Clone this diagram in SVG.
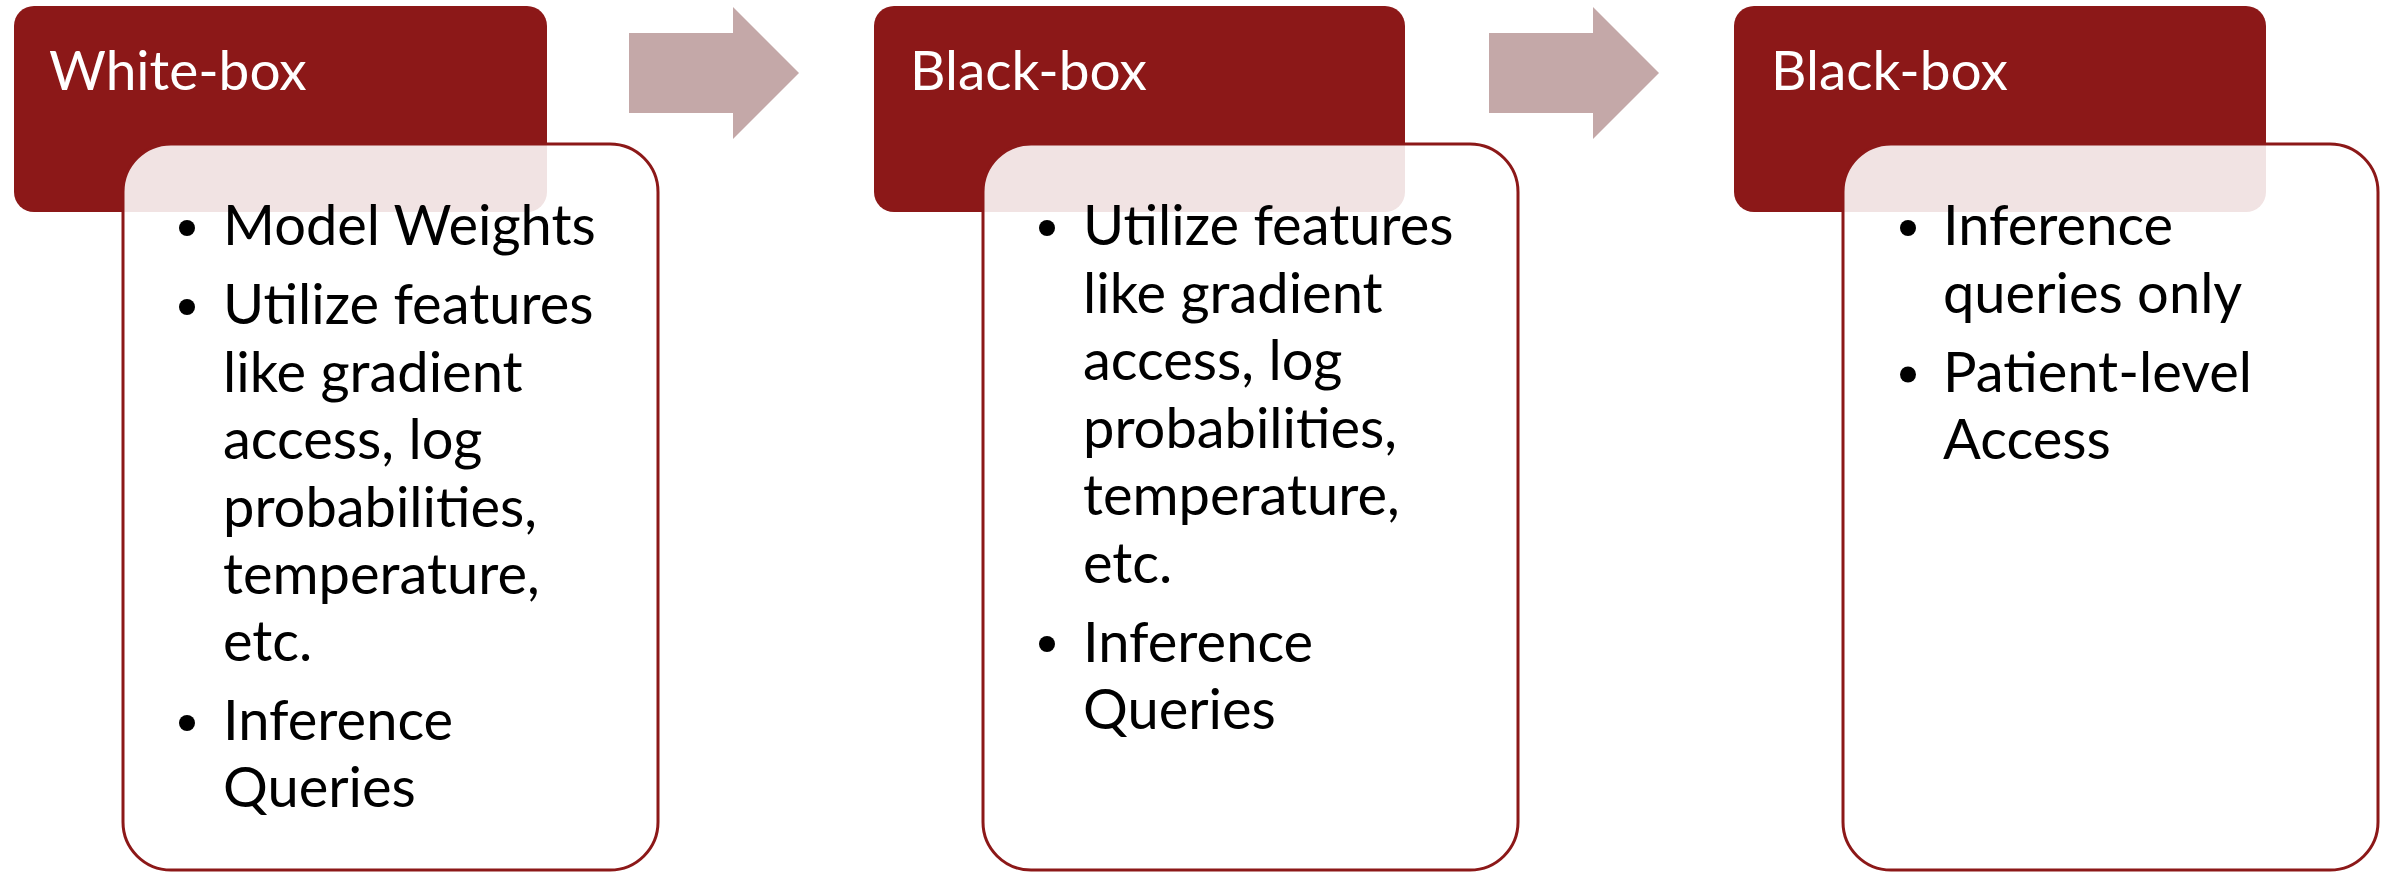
<svg xmlns="http://www.w3.org/2000/svg" width="2392" height="872" viewBox="0 0 2392 872">
  <style>
    .head { fill: #8C1818; }
    .card { fill: #FFFFFF; fill-opacity: 0.88; stroke: #8C1818; stroke-width: 3; }
    .title { font-family: Lato, "Open Sans", sans-serif; font-size: 55px; fill: #FFFFFF; }
    .item { font-family: Lato, "Open Sans", sans-serif; font-size: 56px; fill: #000000; }
    .dot { fill: #000000; }
    .step { fill: #C4A8A8; }
  </style>

  <!-- flow arrows between the stages -->
  <g id="connectors">
    <polygon class="step" points="629,33 733,33 733,7 799,73 733,139 733,113 629,113"/>
    <polygon class="step" points="1489,33 1593,33 1593,7 1659,73 1593,139 1593,113 1489,113"/>
  </g>

  <!-- stage 1 -->
  <g id="white-box">
    <rect class="head" x="14" y="6" width="533" height="206" rx="20"/>
    <text class="title" x="49" y="90">White-box</text>
    <rect class="card" x="123" y="144" width="535" height="726" rx="48"/>
    <circle class="dot" cx="187" cy="228" r="8"/>
    <circle class="dot" cx="187" cy="307" r="8"/>
    <circle class="dot" cx="187" cy="723" r="8"/>
    <text class="item" x="223">
      <tspan x="223" y="245">Model Weights</tspan>
      <tspan x="223" y="324">Utilize features</tspan>
      <tspan x="223" y="391.5">like gradient</tspan>
      <tspan x="223" y="459">access, log</tspan>
      <tspan x="223" y="526.5">probabilities,</tspan>
      <tspan x="223" y="594">temperature,</tspan>
      <tspan x="223" y="661">etc.</tspan>
      <tspan x="223" y="740">Inference</tspan>
      <tspan x="223" y="807">Queries</tspan>
    </text>
  </g>

  <!-- stage 2 -->
  <g id="black-box-1">
    <rect class="head" x="874" y="6" width="531" height="206" rx="20"/>
    <text class="title" x="910" y="90">Black-box</text>
    <rect class="card" x="983" y="144" width="535" height="726" rx="48"/>
    <circle class="dot" cx="1047" cy="228" r="8"/>
    <circle class="dot" cx="1047" cy="644" r="8"/>
    <text class="item" x="1083">
      <tspan x="1083" y="245">Utilize features</tspan>
      <tspan x="1083" y="312.5">like gradient</tspan>
      <tspan x="1083" y="380">access, log</tspan>
      <tspan x="1083" y="447.5">probabilities,</tspan>
      <tspan x="1083" y="515">temperature,</tspan>
      <tspan x="1083" y="582.5">etc.</tspan>
      <tspan x="1083" y="661.5">Inference</tspan>
      <tspan x="1083" y="729">Queries</tspan>
    </text>
  </g>

  <!-- stage 3 -->
  <g id="black-box-2">
    <rect class="head" x="1734" y="6" width="532" height="206" rx="20"/>
    <text class="title" x="1771" y="90">Black-box</text>
    <rect class="card" x="1843" y="144" width="535" height="726" rx="48"/>
    <circle class="dot" cx="1908" cy="228" r="8"/>
    <circle class="dot" cx="1908" cy="374.5" r="8"/>
    <text class="item" x="1943">
      <tspan x="1943" y="245">Inference</tspan>
      <tspan x="1943" y="312.5">queries only</tspan>
      <tspan x="1943" y="391.5">Patient-level</tspan>
      <tspan x="1943" y="459">Access</tspan>
    </text>
  </g>
</svg>
